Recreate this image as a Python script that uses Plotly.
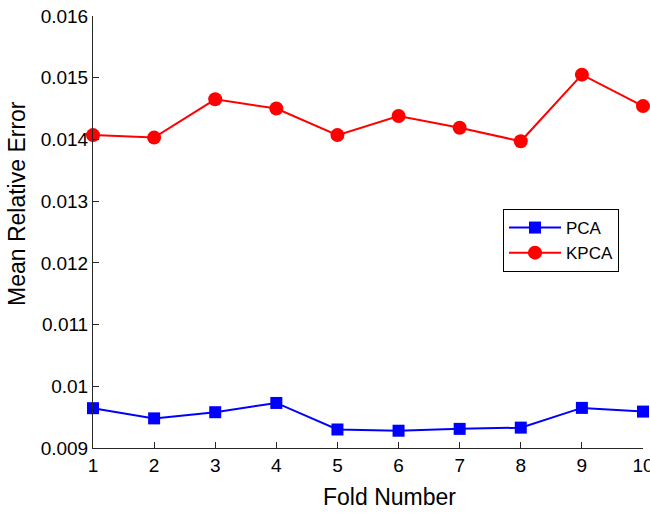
import plotly.graph_objects as go

folds = [1, 2, 3, 4, 5, 6, 7, 8, 9, 10]
pca = [0.009645, 0.00948, 0.00958, 0.00973, 0.00930, 0.00928, 0.00931, 0.00933, 0.00965, 0.00959]
kpca = [0.01407, 0.01403, 0.01465, 0.01450, 0.01407, 0.01438, 0.01419, 0.01397, 0.01505, 0.01454]
y_ticks = [0.009, 0.010, 0.011, 0.012, 0.013, 0.014, 0.015, 0.016]
y_tick_labels = ["0.009", "0.01", "0.011", "0.012", "0.013", "0.014", "0.015", "0.016"]

fig = go.Figure()
fig.add_trace(go.Scatter(x=folds, y=pca, mode="lines+markers", name="PCA",
                         line=dict(color="#0000ff", width=2),
                         marker=dict(symbol="square", size=12, color="#0000ff"),
                         cliponaxis=False))
fig.add_trace(go.Scatter(x=folds, y=kpca, mode="lines+markers", name="KPCA",
                         line=dict(color="#ff0000", width=2),
                         marker=dict(symbol="circle", size=14, color="#ff0000"),
                         cliponaxis=False))

font = "Liberation Sans, Arial, sans-serif"
W, H = 650, 513
L, R, T, B = 93, 7, 16, 65
pw, ph = W - L - R, H - T - B

fig.update_layout(
    width=W, height=H,
    margin=dict(l=L, r=R, t=T, b=B, autoexpand=False),
    paper_bgcolor="white", plot_bgcolor="white",
    font=dict(family=font, size=19, color="#000000"),
    showlegend=True,
    legend=dict(x=(503 - L) / pw, y=(H - B - 209) / ph, xanchor="left", yanchor="top",
                bordercolor="#000000", borderwidth=1, bgcolor="white",
                font=dict(size=17), itemwidth=52, tracegroupgap=0),
    xaxis=dict(range=[1, 10], tickvals=folds, ticks="inside", ticklen=6,
               tickcolor="#262626", showline=True, linecolor="#262626", linewidth=1,
               showgrid=False, zeroline=False, automargin=False,
               ticklabeloverflow="allow"),
    yaxis=dict(range=[0.009, 0.016], tickvals=y_ticks, ticktext=y_tick_labels,
               ticks="inside", ticklen=6, tickcolor="#262626",
               showline=True, linecolor="#262626", linewidth=1,
               showgrid=False, zeroline=False, automargin=False,
               ticklabeloverflow="allow"),
    annotations=[
        dict(text="Fold Number", xref="paper", yref="paper",
             x=(389 - L) / pw, y=(H - B - 497) / ph, xanchor="center", yanchor="middle",
             showarrow=False, font=dict(size=23)),
        dict(text="Mean Relative Error", xref="paper", yref="paper",
             x=(17 - L) / pw, y=(H - B - 204) / ph, xanchor="center", yanchor="middle",
             textangle=-90, showarrow=False, font=dict(size=23)),
    ],
)

fig.write_html("out.html", config={"displayModeBar": False},
               post_script="document.body.style.margin='0';document.body.style.overflow='hidden';")
